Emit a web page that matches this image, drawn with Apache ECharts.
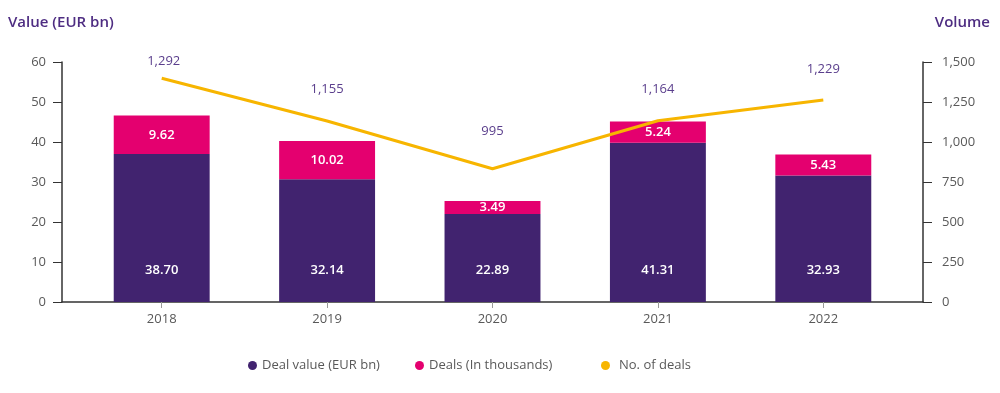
<!DOCTYPE html>
<html>
<head>
<meta charset="utf-8">
<script src="https://cdn.jsdelivr.net/npm/echarts@6/dist/echarts.min.js"></script>
<style>
html,body{margin:0;padding:0;background:#fff;}
#chart{width:1000px;height:393px;}
</style>
</head>
<body>
<div id="chart"></div>
<script>
// Categories
const years = ['2018', '2019', '2020', '2021', '2022'];
// Bar heights as drawn in the picture (left axis, EUR bn)
const dealValueHeights = [37.0, 30.7, 22.0, 39.8, 31.6];
const dealsHeights = [9.6, 9.55, 3.25, 5.3, 5.3];
// Printed labels
const dealValueLabels = ['38.70', '32.14', '22.89', '41.31', '32.93'];
const dealsLabels = ['9.62', '10.02', '3.49', '5.24', '5.43'];
// Line as drawn (right axis) and printed labels
const dealCountHeights = [1398, 1131, 833, 1133, 1262];
const dealCountLabels = ['1,292', '1,155', '995', '1,164', '1,229'];
// Axis ticks
const leftTicks = {min: 0, max: 60, interval: 10};
const rightTicks = {min: 0, max: 1500, interval: 250};

const labelOffsets = [[2, -11], [0, -25], [0, -31], [0, -25], [0, -24]];

const PURPLE = '#41236f';
const PINK = '#e4006f';
const YELLOW = '#f7b500';
const TITLE = '#4e2d82';
const LABEL_PURPLE = '#5a3e8c';
const GREY = '#595959';
const FONT = '"Open Sans", "Noto Sans", sans-serif';

const chart = echarts.init(document.getElementById('chart'));

const legendBase = {
  top: 354, icon: 'circle', itemWidth: 9, itemHeight: 9,
  textStyle: {color: GREY, fontSize: 13, fontFamily: FONT, padding: [0, 0, 0, 0]},
  selectedMode: false
};

chart.setOption({
  animation: false,
  textStyle: {fontFamily: FONT},
  title: [
    {text: 'Value (EUR bn)', left: 3, top: 10, textStyle: {color: TITLE, fontSize: 15, fontWeight: 600, fontFamily: FONT}},
    {text: 'Volume', right: 5, top: 10, textStyle: {color: TITLE, fontSize: 15, fontWeight: 600, fontFamily: FONT}}
  ],
  legend: [
    Object.assign({left: 243, data: ['Deal value (EUR bn)']}, legendBase),
    Object.assign({left: 410, data: ['Deals (In thousands)']}, legendBase),
    Object.assign({left: 596, data: ['No. of deals']}, legendBase, {textStyle: Object.assign({}, legendBase.textStyle, {padding: [0, 0, 0, 4]})})
  ],
  grid: [
    {left: 79, right: 94, top: 62, bottom: 91},
    {left: 62, right: 77, top: 62, bottom: 91}
  ],
  xAxis: [
    {
      type: 'category', gridIndex: 0, data: years,
      axisLine: {show: false},
      axisTick: {show: true, alignWithLabel: true, length: 6, lineStyle: {color: '#999'}},
      axisLabel: {color: GREY, fontSize: 13, margin: 11, fontFamily: FONT}
    },
    {
      type: 'category', gridIndex: 1, data: [''],
      axisLine: {show: true, lineStyle: {color: '#333', width: 1.5}},
      axisTick: {show: false}, axisLabel: {show: false}
    }
  ],
  yAxis: [
    {
      type: 'value', gridIndex: 0, position: 'left', offset: 17,
      min: leftTicks.min, max: leftTicks.max, interval: leftTicks.interval,
      axisLine: {show: true, lineStyle: {color: '#333', width: 1.5}},
      axisTick: {show: true, length: 9, lineStyle: {color: '#333'}},
      axisLabel: {color: GREY, fontSize: 13, margin: 16, fontFamily: FONT},
      splitLine: {show: false}
    },
    {
      type: 'value', gridIndex: 0, position: 'right', offset: 17,
      min: rightTicks.min, max: rightTicks.max, interval: rightTicks.interval,
      axisLine: {show: true, lineStyle: {color: '#333', width: 1.5}},
      axisTick: {show: true, length: 9, lineStyle: {color: '#333'}},
      axisLabel: {color: GREY, fontSize: 13, margin: 19, fontFamily: FONT,
        formatter: v => v.toLocaleString('en-US')},
      splitLine: {show: false}
    },
    {
      type: 'value', gridIndex: 1, min: 0, max: 1, show: false
    }
  ],
  series: [
    {
      name: 'Deal value (EUR bn)', type: 'bar', stack: 'v',
      xAxisIndex: 0, yAxisIndex: 0,
      data: dealValueHeights, barWidth: '58%',
      itemStyle: {color: PURPLE},
      label: {show: true, position: 'insideBottom', distance: 25, color: '#fff', fontSize: 13, fontWeight: 600, fontFamily: FONT,
        formatter: p => dealValueLabels[p.dataIndex]}
    },
    {
      name: 'Deals (In thousands)', type: 'bar', stack: 'v',
      xAxisIndex: 0, yAxisIndex: 0,
      data: dealsHeights, barWidth: '58%',
      itemStyle: {color: PINK},
      label: {show: true, position: 'inside', color: '#fff', fontSize: 13, fontWeight: 600, fontFamily: FONT,
        formatter: p => dealsLabels[p.dataIndex]}
    },
    {
      name: 'No. of deals', type: 'line',
      xAxisIndex: 0, yAxisIndex: 1,
      data: dealCountHeights.map((v, i) => ({value: v, label: {offset: labelOffsets[i]}})),
      symbol: 'circle', symbolSize: 0.01, showSymbol: true,
      lineStyle: {color: YELLOW, width: 3},
      itemStyle: {color: YELLOW},
      label: {show: true, position: 'top', distance: 0, color: LABEL_PURPLE, fontSize: 13, fontFamily: FONT,
        formatter: p => dealCountLabels[p.dataIndex]},
      z: 5
    }
  ]
});
</script>
</body>
</html>
